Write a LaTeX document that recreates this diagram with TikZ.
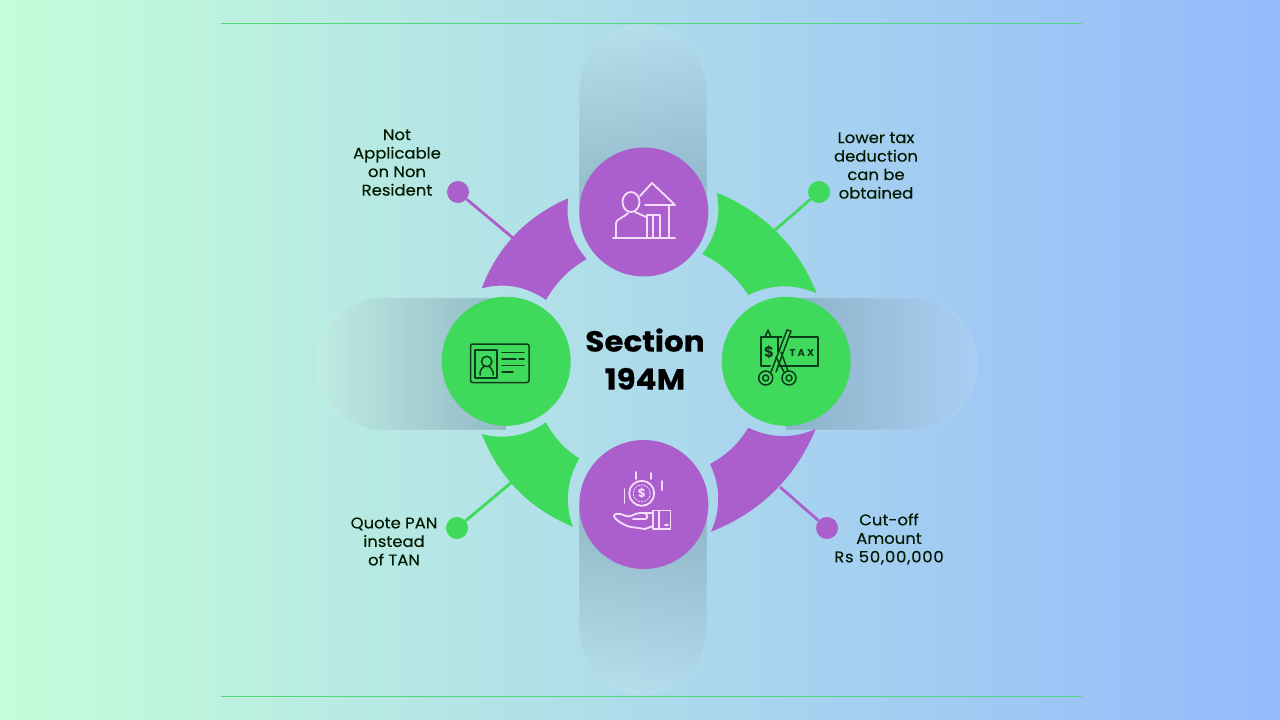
\documentclass[tikz,border=0pt]{standalone}
\usepackage{fontspec}
\setmainfont{Poppins}
\usetikzlibrary{fadings}
\definecolor{bgl}{HTML}{C5FDD9}
\definecolor{bgr}{HTML}{96B9FC}
\definecolor{pur}{HTML}{AB5FCD}
\definecolor{grn}{HTML}{3FD95B}
\definecolor{rule}{HTML}{4FD97A}
\definecolor{pillc}{HTML}{5A8093}
\definecolor{ink}{HTML}{0C3A1C}
\definecolor{paleink}{HTML}{F6DDFB}
\tikzfading[name=fadetop,top color=transparent!100,middle color=transparent!85,bottom color=transparent!58]
\tikzfading[name=fadebot,top color=transparent!58,middle color=transparent!85,bottom color=transparent!100]
\tikzfading[name=fadeleft,left color=transparent!100,middle color=transparent!85,right color=transparent!58]
\tikzfading[name=faderight,left color=transparent!58,middle color=transparent!85,right color=transparent!100]
\newcommand{\ringseg}[5]{\fill[#1,looseness=.92] #2 to[bend left=23] #3 to[bend right=25] #4 to[bend right=15] #5 to[bend right=25] cycle;}
\tikzset{
  hub/.style={circle,minimum size=129pt,inner sep=0pt,draw=none},
  dotn/.style={circle,minimum size=22pt,inner sep=0pt,draw=none},
  lead/.style={line width=2.8pt},
  lbl/.style={align=center,inner sep=0pt,text=black!90!green,font=\fontsize{15.5pt}{18.5pt}\selectfont\addfontfeature{FakeBold=0.25,FakeStretch=1.06}},
  ttl/.style={align=center,inner sep=0pt,text=black,font=\fontsize{29pt}{38pt}\selectfont\bfseries\addfontfeature{FakeBold=0.4,FakeStretch=1.07}},
  glass/.style={fill=white,fill opacity=.10},
  glassrim/.style={draw=white,draw opacity=.08,line width=1.4pt},
  iconp/.style={draw=paleink,line width=1.8pt,line cap=round,line join=round},
  icong/.style={draw=ink,line width=1.5pt,line cap=round,line join=round},
}
\begin{document}
\begin{tikzpicture}[x=1pt,y=-1pt]
\useasboundingbox (0,0) rectangle (1280,720);
\shade[left color=bgl,right color=bgr] (0,0) rectangle (1280,720);
% rules
\coordinate (r1a) at (221,23); \coordinate (r1b) at (1082,23);
\coordinate (r2a) at (221,696); \coordinate (r2b) at (1082,696);
\draw[rule,line width=.9pt] (r1a) -- (r1b);
\draw[rule,line width=.9pt] (r2a) -- (r2b);
% pills
\path[glass] (579,212) -- (579,89) arc[start angle=180,end angle=0,radius=64,y radius=-64] -- (707,212) -- cycle;
\fill[pillc,path fading=fadetop] (579,212) -- (579,89) arc[start angle=180,end angle=0,radius=64,y radius=-64] -- (707,212) -- cycle;
\path[glassrim] (579,212) -- (579,89) arc[start angle=180,end angle=0,radius=64,y radius=-64] -- (707,212);
\path[glass] (579,505) -- (579,630) arc[start angle=180,end angle=360,radius=64,y radius=-64] -- (707,505) -- cycle;
\fill[pillc,path fading=fadebot] (579,505) -- (579,630) arc[start angle=180,end angle=360,radius=64,y radius=-64] -- (707,505) -- cycle;
\path[glassrim] (579,505) -- (579,630) arc[start angle=180,end angle=360,radius=64,y radius=-64] -- (707,505);
\path[glass] (506,298) -- (382,298) arc[start angle=90,end angle=270,radius=66,y radius=-66] -- (506,430) -- cycle;
\fill[pillc,path fading=fadeleft] (506,298) -- (382,298) arc[start angle=90,end angle=270,radius=66,y radius=-66] -- (506,430) -- cycle;
\path[glassrim] (506,298) -- (382,298) arc[start angle=90,end angle=270,radius=66,y radius=-66] -- (506,430);
\path[glass] (786,298) -- (911,298) arc[start angle=90,end angle=-90,radius=66,y radius=-66] -- (786,430) -- cycle;
\fill[pillc,path fading=faderight] (786,298) -- (911,298) arc[start angle=90,end angle=-90,radius=66,y radius=-66] -- (786,430) -- cycle;
\path[glassrim] (786,298) -- (911,298) arc[start angle=90,end angle=-90,radius=66,y radius=-66] -- (786,430);
% ring segments (clockwise: outer start, outer end, inner, inner)
\ringseg{pur}{(481.7,288.3)}{(568.3,198.3)}{(586.7,259)}{(546,300)}
\ringseg{grn}{(716.7,192.7)}{(816.7,293.3)}{(748.3,295)}{(702.3,254)}
\ringseg{pur}{(815.7,429)}{(711,531.7)}{(710,464)}{(748.3,427.7)}
\ringseg{grn}{(572.7,526.7)}{(481.7,434)}{(546,422.3)}{(579.3,458.3)}
% hubs
\node[hub,fill=pur] (top) at (643.8,212) {};
\node[hub,fill=grn] (left) at (506.2,361.3) {};
\node[hub,fill=grn] (right) at (786.2,361.3) {};
\node[hub,fill=pur] (bottom) at (643.8,504.5) {};
% leaders
\coordinate (ringTL) at (513,238);
\coordinate (ringTR) at (775,230);
\coordinate (ringBR) at (780,487);
\coordinate (ringBL) at (512,482);
\node[dotn,fill=pur] (dTL) at (458,192) {};
\node[dotn,fill=grn] (dTR) at (819,192) {};
\node[dotn,fill=pur] (dBR) at (827,528) {};
\node[dotn,fill=grn] (dBL) at (457,528) {};
\draw[lead,pur] (dTL) -- (ringTL);
\draw[lead,grn] (dTR) -- (ringTR);
\draw[lead,pur] (dBR) -- (ringBR);
\draw[lead,grn] (dBL) -- (ringBL);
% labels
\node[lbl] (tTL) at (397,162.5) {Not\\Applicable\\on Non\\Resident};
\node[lbl] (tTR) at (876,165.5) {Lower tax\\deduction\\can be\\obtained};
\node[lbl] (tBR) at (889,539) {Cut-off\\Amount\\{\addfontfeature{LetterSpace=5}Rs 50,00,000}};
\node[lbl] (tBL) at (394,541.5) {Quote PAN\\instead\\of TAN};
\node[ttl] (title) at (645,359) {Section\\194M};
% icon: person + house
\draw[iconp] (613,238) -- (675,238);
\draw[iconp] (640,196) -- (652,183) -- (675,205) -- (645,205);
\draw[iconp] (669,205) -- (669,238);
\draw[iconp] (647,238) -- (647,215) -- (660,215) -- (660,238);
\draw[iconp] (653,215) -- (653,238);
\draw[iconp] (631,202) ellipse[x radius=8.5,y radius=10];
\draw[iconp] (616,238) -- (616,223) .. controls (616,219) and (625,217) .. (628,213);
\draw[iconp] (635,212) -- (646,217);
% icon: id card
\draw[icong,rounded corners=2pt] (470.5,344) rectangle (529,382.5);
\draw[icong] (475,350) rectangle (497,378);
\draw[icong] (486.7,361.5) circle[radius=5.2];
\draw[icong] (480,375) -- (480,372) .. controls (480,369) and (483,368) .. (484,366.5);
\draw[icong] (493,375) -- (493,372) .. controls (493,369) and (490,368) .. (489,366.5);
\draw[icong] (502,352.5) -- (524,352.5);
\draw[icong] (502,359) -- (516,359);
\draw[icong] (519,359) -- (524,359);
\draw[icong] (502,365.5) -- (524,365.5);
\draw[icong] (502,372) -- (513,372);
% icon: tax cut
\draw[icong] (761,337) rectangle (818,366);
\draw[icong] (765,337) -- (768,330) -- (771,337);
\node[text=ink,inner sep=0pt,font=\fontsize{15pt}{15pt}\selectfont\bfseries] (taxD) at (769,352) {\$};
\node[text=ink,inner sep=0pt,font=\fontsize{10pt}{10pt}\selectfont\bfseries] (taxT) at (802,353) {T A X};
\fill[grn] (785,330) -- (792,331) -- (777,372) -- (769,370) -- cycle;
\draw[icong] (787,330) -- (791,331) -- (776,372);
\draw[icong] (787,330) -- (771,372);
\draw[icong] (778,338) -- (778,352);
\draw[icong] (776,357) -- (784,372);
\draw[icong] (781,352) -- (788,371);
\draw[icong] (765.7,378) circle[radius=7];
\draw[icong] (765.7,378) circle[radius=3];
\draw[icong] (789,378) circle[radius=7];
\draw[icong] (789,378) circle[radius=3];
% icon: hand and coin
\draw[iconp] (641.7,493.3) circle[radius=12.5];
\draw[iconp,line width=.8pt,dash pattern=on 1.5pt off 1.5pt] (641.7,493.3) circle[radius=8.5];
\node[text=paleink,inner sep=0pt,font=\fontsize{12pt}{12pt}\selectfont\bfseries] (coin) at (641.7,493.3) {\$};
\draw[iconp] (636,472) -- (636,479);
\draw[iconp] (651,473) -- (651,479);
\draw[iconp] (662,481) -- (662,490);
\draw[iconp] (624.5,489) -- (624.5,503);
\draw[iconp] (653,510.5) rectangle (670.5,529);
\draw[iconp] (659,510.5) -- (659,529);
\draw[iconp] (653,513) -- (640,513) .. controls (634,513) and (631,518) .. (626,516) .. controls (620,513) and (614,513) .. (614,516) .. controls (615,520) and (625,526) .. (631,527) -- (645,529) -- (653,526);
\draw[iconp] (633,519) -- (645,519) .. controls (648,519) and (648,515) .. (645,513);
\draw[iconp] (665,525) -- (668,525);
\end{tikzpicture}
\end{document}
